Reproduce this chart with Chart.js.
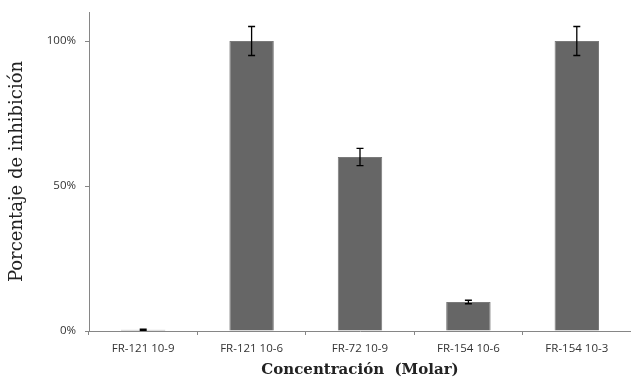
<!DOCTYPE html>
<html>
<head>
<meta charset="utf-8">
<script src="https://cdn.jsdelivr.net/npm/chart.js@4/dist/chart.umd.min.js"></script>
<style>
  html, body { margin: 0; padding: 0; background: #fff; }
  #wrap { width: 631px; height: 383px; position: relative; }
</style>
</head>
<body>
<div id="wrap"><canvas id="c"></canvas></div>
<script>
// datos
const categorias = ['FR-121 10-9', 'FR-121 10-6', 'FR-72 10-9', 'FR-154 10-6', 'FR-154 10-3'];
const inhibicion = [0.4, 100, 60, 10, 100];
const errores = [0.2, 5, 3, 0.6, 5];
const ticksY = [0, 50, 100];

// barras de error dibujadas con las escalas del chart
const errorBars = {
  id: 'errorBars',
  afterDatasetsDraw(chart) {
    const { ctx, scales: { y } } = chart;
    const meta = chart.getDatasetMeta(0);
    ctx.save();
    ctx.strokeStyle = '#000';
    ctx.lineWidth = 1.3;
    meta.data.forEach((bar, i) => {
      const v = inhibicion[i], e = errores[i];
      const yTop = y.getPixelForValue(v + e);
      const yBot = y.getPixelForValue(v - e);
      const x = bar.x, cap = 3.5;
      ctx.beginPath();
      ctx.moveTo(x, yTop); ctx.lineTo(x, yBot);
      ctx.moveTo(x - cap, yTop); ctx.lineTo(x + cap, yTop);
      ctx.moveTo(x - cap, yBot); ctx.lineTo(x + cap, yBot);
      ctx.stroke();
    });
    ctx.restore();
  },
};

const tickFont = { family: '"Open Sans", "Liberation Sans", sans-serif', size: 11.5 };
const serif = '"DejaVu Serif", "Liberation Serif", serif';

new Chart(document.getElementById('c'), {
  type: 'bar',
  data: {
    labels: categorias,
    datasets: [{
      data: inhibicion,
      backgroundColor: '#666666',
      borderColor: '#7a7a7a',
      borderWidth: 1,
      barPercentage: 0.41,
      categoryPercentage: 1,
    }],
  },
  options: {
    responsive: true,
    maintainAspectRatio: false,
    animation: false,
    layout: { padding: { top: 12, right: 0, left: 0, bottom: 0 } },
    plugins: { legend: { display: false }, tooltip: { enabled: false } },
    scales: {
      x: {
        afterFit: (s) => { s.height = 52; },
        grid: { drawOnChartArea: false, tickLength: 4, color: '#868686' },
        border: { color: '#868686' },
        ticks: { color: '#333', font: tickFont, padding: 7, maxRotation: 0 },
        title: {
          display: true,
          text: 'Concentración  (Molar)',
          color: '#222',
          font: { family: serif, size: 15, weight: 'bold' },
          padding: { top: 0, bottom: 4 },
        },
      },
      y: {
        min: 0,
        max: 110,
        afterFit: (s) => { s.width = 89; s.paddingTop = 0; s.paddingBottom = 0; },
        afterBuildTicks: (s) => { s.ticks = ticksY.map(v => ({ value: v })); },
        grid: { drawOnChartArea: false, tickLength: 4, color: '#868686' },
        border: { color: '#868686' },
        ticks: { color: '#333', font: tickFont, padding: 9, callback: (v) => v + '%' },
        title: {
          display: true,
          text: 'Porcentaje de inhibición',
          color: '#222',
          font: { family: serif, size: 18 },
          padding: { top: 7, bottom: 0 },
        },
      },
    },
  },
  plugins: [errorBars],
});
</script>
</body>
</html>
